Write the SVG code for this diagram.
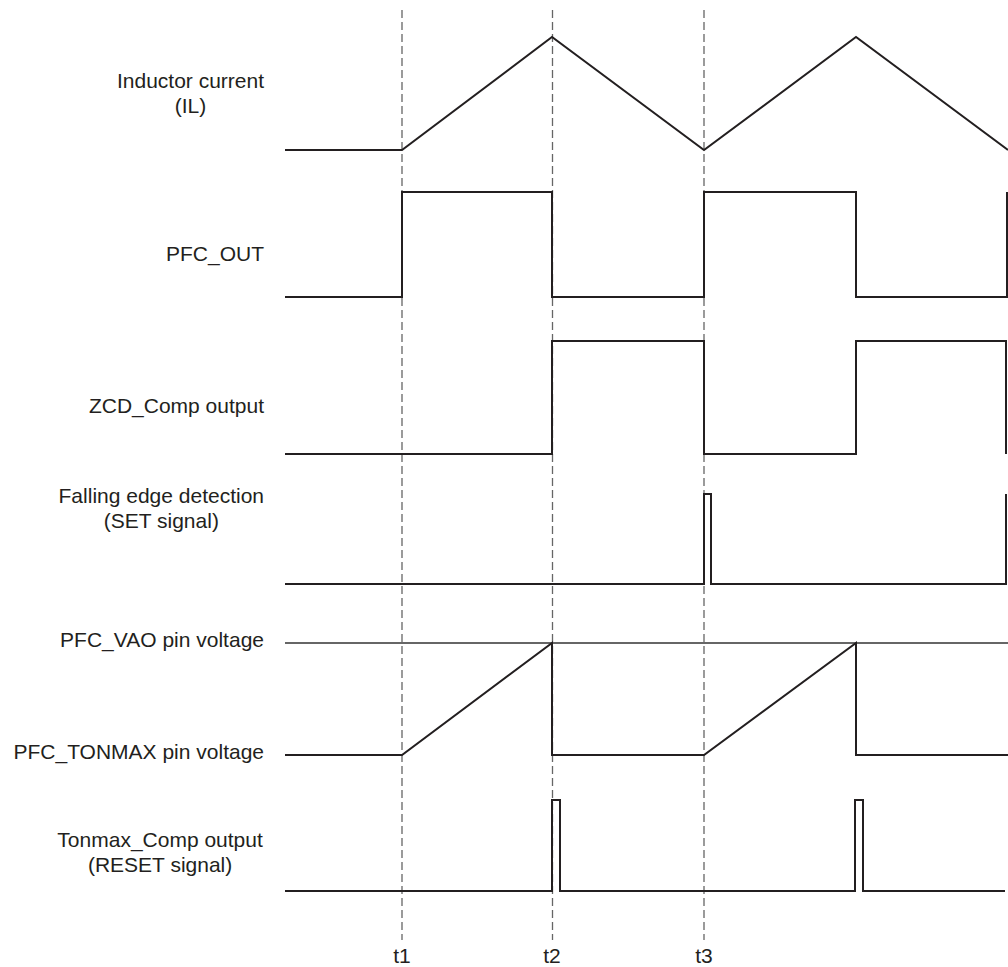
<svg xmlns="http://www.w3.org/2000/svg" width="1008" height="967" viewBox="0 0 1008 967">
<style>
.lbl{font-family:"Liberation Sans",Arial,sans-serif;font-size:21px;fill:#231f20}
.e{text-anchor:end}
.m{text-anchor:middle}
.w{fill:none;stroke:#231f20;stroke-width:2;stroke-linejoin:miter}
.ref{fill:none;stroke:#333;stroke-width:1.7}
.d{fill:none;stroke:#666;stroke-width:1.3;stroke-dasharray:8,4}
</style>
<rect width="1008" height="967" fill="#fff"/>
<g id="timelines">
<line class="d" x1="402" y1="10" x2="402" y2="940"/>
<line class="d" x1="552.5" y1="10" x2="552.5" y2="940"/>
<line class="d" x1="704" y1="10" x2="704" y2="940"/>
<text class="lbl m" x="402" y="963">t1</text>
<text class="lbl m" x="552" y="963">t2</text>
<text class="lbl m" x="704" y="963">t3</text>
</g>
<g id="inductor-current">
<text class="lbl m" x="190.5" y="88">Inductor current</text>
<text class="lbl m" x="190.5" y="113">(IL)</text>
<polyline class="w" points="285,150 402,150 552,37 704,150 856,37 1008,150"/>
</g>
<g id="pfc-out">
<text class="lbl e" x="264" y="261">PFC_OUT</text>
<polyline class="w" points="285,297 402,297 402,192 552,192 552,297 704,297 704,192 856,192 856,297 1007,297 1007,192"/>
</g>
<g id="zcd-comp">
<text class="lbl e" x="264" y="413">ZCD_Comp output</text>
<polyline class="w" points="285,454 552,454 552,341 704,341 704,454 856,454 856,341 1006,341 1006,454"/>
</g>
<g id="falling-edge">
<text class="lbl m" x="161.3" y="503">Falling edge detection</text>
<text class="lbl m" x="161.3" y="528">(SET signal)</text>
<polyline class="w" points="285,584 704,584 704,494 711,494 711,584 1006,584 1006,494"/>
</g>
<g id="pfc-vao">
<text class="lbl e" x="264" y="647">PFC_VAO pin voltage</text>
<line class="ref" x1="285" y1="643" x2="1008" y2="643"/>
</g>
<g id="pfc-tonmax">
<text class="lbl e" x="264" y="759">PFC_TONMAX pin voltage</text>
<polyline class="w" points="285,755 402,755 552,643 552,755 704,755 856,643 856,755 1008,755"/>
</g>
<g id="tonmax-comp">
<text class="lbl m" x="160.1" y="847">Tonmax_Comp output</text>
<text class="lbl m" x="160.1" y="872">(RESET signal)</text>
<polyline class="w" points="285,891 552,891 552,800 560,800 560,891 855,891 855,800 863,800 863,891 1005,891"/>
</g>
</svg>
